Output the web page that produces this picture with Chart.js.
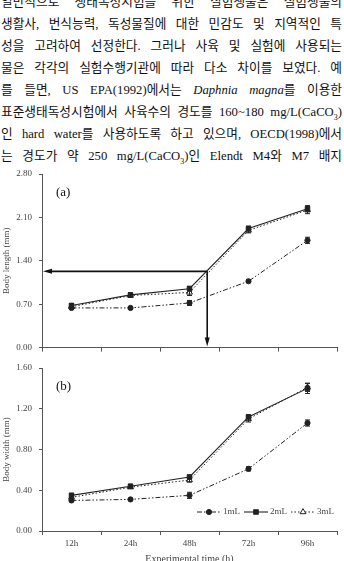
<!DOCTYPE html>
<html>
<head>
<meta charset="utf-8">
<script src="https://cdn.jsdelivr.net/npm/chart.js@4.4.1/dist/chart.umd.min.js"></script>
<style>
  html, body { margin: 0; padding: 0; width: 344px; height: 561px; overflow: hidden; background: #fff; }
  #text { position: absolute; left: 1px; top: -9px; width: 341px; font-family: "Liberation Serif", "Noto Sans CJK KR", serif;
          font-size: 12.7px; line-height: 22px; color: #111; }
  #text div { text-align: justify; text-align-last: justify; height: 22px; overflow: visible; }
  .box { position: absolute; left: 0; width: 344px; }
  #boxA { top: 160px; height: 200px; }
  #boxB { top: 355px; height: 215px; }
</style>
</head>
<body>
<div id="text">
  <div>일반적으로 생태독성시험을 위한 실험생물은 실험생물의</div>
  <div>생활사, 번식능력, 독성물질에 대한 민감도 및 지역적인 특</div>
  <div>성을 고려하여 선정한다. 그러나 사육 및 실험에 사용되는</div>
  <div>물은 각각의 실험수행기관에 따라 다소 차이를 보였다. 예</div>
  <div>를 들면, US EPA(1992)에서는 <i>Daphnia magna</i>를 이용한</div>
  <div>표준생태독성시험에서 사육수의 경도를 160~180 mg/L(CaCO<sub style="font-size:8px">3</sub>)</div>
  <div>인 hard water를 사용하도록 하고 있으며, OECD(1998)에서</div>
  <div>는 경도가 약 250 mg/L(CaCO<sub style="font-size:8px">3</sub>)인 Elendt M4와 M7 배지</div>
</div>
<div class="box" id="boxA"><canvas id="chartA"></canvas></div>
<div class="box" id="boxB"><canvas id="chartB"></canvas></div>
<script>
const times = ['12h', '24h', '48h', '72h', '96h'];
const seriesNames = ['1mL', '2mL', '3mL'];

// (a) body length (mm)
const length1 = [0.64, 0.64, 0.72, 1.07, 1.73];
const length2 = [0.68, 0.85, 0.95, 1.92, 2.24];
const length3 = [0.66, 0.84, 0.89, 1.89, 2.22];
const lengthErr1 = [0.02, 0.02, 0.04, 0.02, 0.05];
const lengthErr2 = [0.03, 0.03, 0.04, 0.04, 0.05];
const lengthErr3 = [0.03, 0.03, 0.05, 0.04, 0.06];
const lengthTicks = [0, 0.7, 1.4, 2.1, 2.8];

// (b) body width (mm)
const width1 = [0.30, 0.31, 0.35, 0.61, 1.06];
const width2 = [0.35, 0.44, 0.53, 1.12, 1.40];
const width3 = [0.33, 0.43, 0.50, 1.10, 1.41];
const widthErr1 = [0.01, 0.01, 0.03, 0.02, 0.03];
const widthErr2 = [0.02, 0.01, 0.02, 0.02, 0.05];
const widthErr3 = [0.02, 0.01, 0.02, 0.03, 0.04];
const widthTicks = [0, 0.4, 0.8, 1.2, 1.6];

// arrow marker in (a): [category position, body length]
const arrowAt = [2.3, 1.23];

const ink = '#222';
const axisGrey = '#555';
const serif = 'Liberation Serif';

function makeDatasets(v1, v2, v3, e1, e2, e3) {
    return [
        { label: seriesNames[0], data: v1, errors: e1, borderColor: ink, backgroundColor: ink, borderWidth: 1,
          borderDash: [5, 2, 1.5, 2, 1.5, 2], pointStyle: 'circle', pointRadius: 2.6, pointBorderWidth: 1 },
        { label: seriesNames[1], data: v2, errors: e2, borderColor: ink, backgroundColor: ink, borderWidth: 1.1,
          pointStyle: 'rect', pointRadius: 3.2, pointBorderWidth: 1 },
        { label: seriesNames[2], data: v3, errors: e3, borderColor: ink, backgroundColor: '#fff', borderWidth: 1,
          borderDash: [1.5, 2], pointStyle: 'triangle', pointRadius: 3.4, pointBorderWidth: 1 }
    ];
}

const errorBars = {
    id: 'errorBars',
    afterDatasetsDraw(chart) {
        const ctx = chart.ctx, y = chart.scales.y;
        chart.data.datasets.forEach((ds, i) => {
            chart.getDatasetMeta(i).data.forEach((pt, j) => {
                const top = y.getPixelForValue(ds.data[j] + ds.errors[j]);
                const bot = y.getPixelForValue(ds.data[j] - ds.errors[j]);
                ctx.save();
                ctx.strokeStyle = ink;
                ctx.lineWidth = 1;
                ctx.beginPath();
                ctx.moveTo(pt.x, top); ctx.lineTo(pt.x, bot);
                ctx.moveTo(pt.x - 2.5, top); ctx.lineTo(pt.x + 2.5, top);
                ctx.moveTo(pt.x - 2.5, bot); ctx.lineTo(pt.x + 2.5, bot);
                ctx.stroke();
                ctx.restore();
            });
        });
    }
};

function panelLabel(text) {
    return {
        id: 'panelLabel',
        afterDraw(chart) {
            const ctx = chart.ctx, a = chart.chartArea;
            ctx.save();
            ctx.fillStyle = '#111';
            ctx.font = '13px "' + serif + '"';
            ctx.textBaseline = 'middle';
            ctx.fillText(text, a.left + 14, a.top + 19);
            ctx.restore();
        }
    };
}

const arrows = {
    id: 'arrows',
    afterDatasetsDraw(chart) {
        const { ctx, chartArea: a, scales: { x, y } } = chart;
        const px = x.getPixelForValue(arrowAt[0]);
        const py = y.getPixelForValue(arrowAt[1]);
        ctx.save();
        ctx.strokeStyle = '#111';
        ctx.fillStyle = '#111';
        ctx.lineWidth = 1.6;
        ctx.beginPath();
        ctx.moveTo(px, py); ctx.lineTo(a.left + 8, py);
        ctx.moveTo(px, py); ctx.lineTo(px, a.bottom - 8);
        ctx.stroke();
        ctx.beginPath();
        ctx.moveTo(a.left + 1, py); ctx.lineTo(a.left + 10, py - 2.5); ctx.lineTo(a.left + 10, py + 2.5);
        ctx.closePath(); ctx.fill();
        ctx.beginPath();
        ctx.moveTo(px, a.bottom - 1); ctx.lineTo(px - 2.5, a.bottom - 10); ctx.lineTo(px + 2.5, a.bottom - 10);
        ctx.closePath(); ctx.fill();
        ctx.restore();
    }
};

const lineLegend = {
    id: 'lineLegend',
    afterDraw(chart) {
        const ctx = chart.ctx, a = chart.chartArea;
        const yy = a.bottom - 19;
        ctx.save();
        ctx.font = '9px "' + serif + '"';
        ctx.textBaseline = 'middle';
        let x = a.left + 155;
        chart.data.datasets.forEach(ds => {
            ctx.strokeStyle = ink;
            ctx.lineWidth = ds.borderWidth;
            ctx.setLineDash(ds.borderDash || []);
            ctx.beginPath(); ctx.moveTo(x, yy); ctx.lineTo(x + 24, yy); ctx.stroke();
            ctx.setLineDash([]);
            ctx.fillStyle = ds.backgroundColor;
            ctx.strokeStyle = ink;
            Chart.helpers.drawPoint(ctx, { pointStyle: ds.pointStyle, radius: ds.pointRadius, borderWidth: 1 }, x + 12, yy);
            ctx.fillStyle = '#444';
            ctx.fillText(ds.label, x + 26, yy);
            x += 26 + ctx.measureText(ds.label).width + 4;
        });
        ctx.restore();
    }
};

function makeOptions(ticks, title, showX, xHeight) {
    return {
        responsive: true,
        maintainAspectRatio: false,
        animation: false,
        layout: { padding: { top: 14, right: 7, left: 0, bottom: 0 } },
        plugins: { legend: { display: false }, tooltip: { enabled: false } },
        elements: { line: { tension: 0 } },
        scales: {
            x: {
                offset: true,
                grid: { display: true, drawOnChartArea: false, offset: true, tickLength: 4, color: axisGrey },
                border: { color: axisGrey, width: 1 },
                ticks: { display: showX, padding: 3, color: '#444', font: { family: serif, size: 9 } },
                title: { display: showX, text: 'Experimental time (h)', color: '#444', padding: { top: 0, bottom: 5 },
                         font: { family: serif, size: 10 } },
                afterFit: s => { s.height = xHeight; }
            },
            y: {
                min: ticks[0],
                max: ticks[ticks.length - 1],
                afterBuildTicks: s => { s.ticks = ticks.map(v => ({ value: v })); },
                grid: { drawOnChartArea: false, tickLength: 3, color: axisGrey },
                border: { color: axisGrey, width: 1 },
                ticks: { padding: 7, color: '#444', font: { family: serif, size: 9 }, callback: v => v.toFixed(2) },
                title: { display: true, text: title, color: '#444', padding: { top: 1, bottom: 0 },
                         font: { family: serif, size: 9 } },
                afterFit: s => { s.width = 42; }
            }
        }
    };
}

new Chart(document.getElementById('chartA'), {
    type: 'line',
    data: { labels: times, datasets: makeDatasets(length1, length2, length3, lengthErr1, lengthErr2, lengthErr3) },
    options: makeOptions(lengthTicks, 'Body length (mm)', false, 10),
    plugins: [errorBars, arrows, panelLabel('(a)')]
});

const optB = makeOptions(widthTicks, 'Body width (mm)', true, 39);
optB.layout.padding.top = 13;
new Chart(document.getElementById('chartB'), {
    type: 'line',
    data: { labels: times, datasets: makeDatasets(width1, width2, width3, widthErr1, widthErr2, widthErr3) },
    options: optB,
    plugins: [errorBars, lineLegend, panelLabel('(b)')]
});
</script>
</body>
</html>
